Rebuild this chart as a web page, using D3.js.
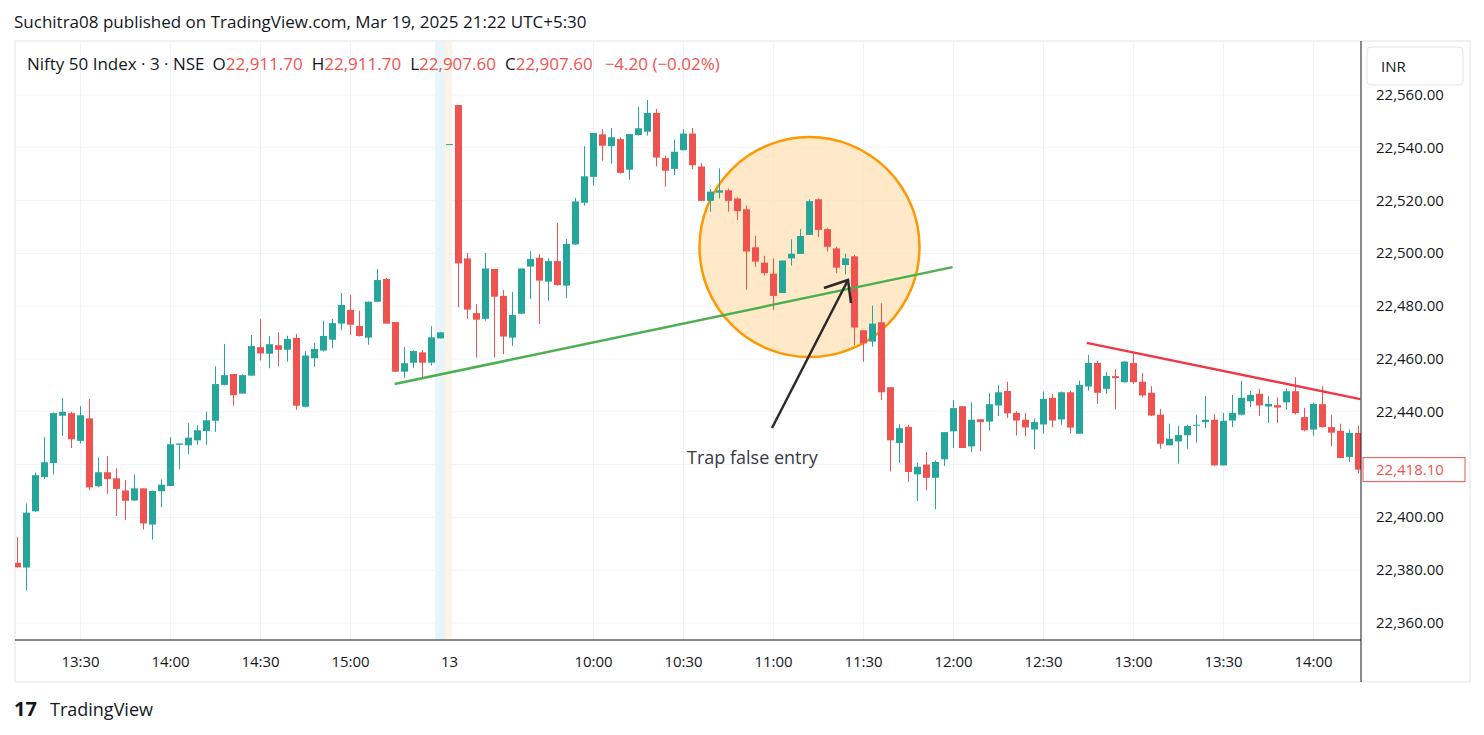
<!DOCTYPE html>
<html><head><meta charset="utf-8">
<script src="https://cdn.jsdelivr.net/npm/d3@7"></script>
<style>body{margin:0;background:#fff;font-family:"Open Sans",Roboto,sans-serif}</style>
</head><body><svg id="c" width="1484" height="735"></svg>
<script>
// 3-min candles, one per slot (day 1: 0..47, day 2: 48..149)
const opens = [22382.8,22381,22402.3,22415.3,22420.6,22438.5,22439.5,22429,22437.5,22411.8,22417.1,22414.8,22410.2,22406.4,22411,22397.3,22409.9,22411.9,22427.5,22427.3,22429.2,22432.7,22436.6,22450.2,22454.3,
22446.9,22453.7,22464.5,22462,22465.2,22463.5,22468,22441.9,22460.3,22463.2,22467.3,22473.4,22478.6,22472.5,22468.1,22481.7,22490.3,22474,22455.2,22458.6,22462.5,22458.6,22467.8,22541.4,22556.2,
22498.1,22477.4,22475.2,22494.1,22483.9,22468.1,22477.2,22495,22498.3,22489.3,22497.1,22487.8,22503.4,22519.2,22529,22545.1,22540.6,22543.3,22531.7,22544.8,22546.1,22553.2,22536.1,22532,22539.1,
22545.4,22532.9,22519.9,22523,22523.9,22520.8,22516.7,22502.3,22496.5,22492.3,22485,22498.1,22499.8,22507,22520.5,22509.2,22501.9,22495.6,22498.9,22470.9,22466.6,22473.9,22449.3,22428.2,22434.3,
22416.3,22420,22415,22422,22432.6,22442.1,22426.9,22437.2,22436.3,22442.4,22447.9,22439.6,22437,22433.3,22435.2,22445.3,22437.1,22447.4,22431.7,22449.6,22458.5,22448.7,22453.5,22451.2,22458.5,
22451.4,22447.2,22438.9,22427.3,22428.8,22431.1,22434.8,22436.1,22437,22419.7,22436.7,22438.9,22444,22446.8,22442,22442.5,22443.6,22447.8,22438,22433.3,22442.9,22434.2,22432.8,22422.9,22432];
const highs = [22392.5,22405.3,22417,22430.4,22439.7,22445.2,22440,22442.1,22444.8,22422.7,22423.2,22418.6,22414.2,22416.3,22411,22410.2,22414.4,22430.4,22428,22435.7,22434.9,22440.1,22457.2,22465.7,22454.3,
22454.2,22469.1,22475.2,22468.7,22470.1,22468.8,22469.5,22463,22466.1,22474.5,22475.2,22485,22484.2,22478.3,22481.8,22494.1,22490.7,22474,22464.5,22463.3,22463.4,22472.4,22470.1,22541.4,22556.2,
22500.2,22480.8,22500.2,22494.1,22486.1,22485.4,22494.3,22500.8,22499.8,22498.1,22511.5,22505.5,22521,22540.6,22545.6,22547.1,22547.5,22544,22545.2,22555.5,22558.1,22554.7,22537,22543.1,22547,
22547.5,22534.3,22524.4,22532.2,22524.6,22521.2,22518.1,22506.7,22499.1,22498.1,22497.3,22505.3,22509.2,22520.5,22520.8,22509.7,22502.5,22499.9,22499.4,22471,22480.2,22481.1,22449.3,22435.3,22435.1,
22420.8,22424.8,22421.6,22432.3,22444.4,22442.1,22443.6,22437.2,22447.2,22450.2,22451.4,22440.2,22439.6,22437.4,22447.7,22446.8,22447.7,22448,22451.8,22461.6,22459.2,22455,22456.2,22459.2,22461.9,
22454.7,22449.7,22441.1,22435.5,22434.6,22435.1,22438.9,22446,22439.1,22439.6,22446.4,22451.7,22447.9,22448.7,22445.9,22445.4,22448.9,22453.1,22441.4,22443.4,22449.7,22438.9,22435.5,22433.3,22434.8];
const lows = [22381,22372.4,22402,22414.5,22416.3,22430.9,22426.3,22428,22410.4,22411.5,22408.9,22400.5,22399,22406.2,22395.4,22391.6,22403.8,22411.8,22418.2,22423.9,22427.5,22427.5,22432.4,22450,22442.3,
22446.9,22453.7,22459.4,22456.5,22457.2,22459,22440.8,22441.7,22457.1,22462.8,22464,22470.9,22469.1,22468.5,22465.4,22481.5,22473.3,22455.1,22452.9,22456.7,22453,22457.5,22467.8,22541.4,22479.6,
22475.2,22460.5,22474.5,22460.5,22461.9,22465,22477,22482.7,22473.3,22482.1,22487.8,22483.1,22503.3,22518.1,22525.7,22535.1,22534,22530.2,22527.9,22544.6,22544.6,22533,22525.3,22529.7,22539,
22531.9,22519.8,22515.8,22520.8,22515.8,22512.6,22486.2,22495,22491.6,22478.6,22485,22495.4,22499.8,22507,22506.2,22500.7,22492.5,22492.1,22465.3,22459,22464.7,22444.5,22417.4,22420.6,22413.5,
22406.2,22410.3,22403.1,22419.5,22426.3,22426.3,22424.8,22425,22432.9,22438.4,22437.7,22431,22430.7,22425.8,22431.7,22434.1,22435.1,22431.8,22431.7,22448,22443,22446.8,22440.9,22451,22450.6,
22445.4,22438.4,22426,22427.3,22420.4,22426,22428.3,22433.8,22419.7,22419.7,22434.2,22438.6,22441.8,22438.4,22435.7,22435.7,22440.9,22439,22432.6,22431,22434,22427,22422.5,22421,22416.6];
const closes = [22381.1,22401.8,22416,22420.9,22439.5,22440,22429.6,22438.7,22411.4,22417.1,22414.5,22410.8,22406.3,22411,22397.7,22410,22412.4,22427.7,22428,22430.2,22433,22436.8,22450.5,22453.9,22446.3,
22453.9,22464.9,22462.1,22465.6,22463.5,22467.6,22442.3,22461.3,22463.8,22468.7,22473.6,22480.5,22473,22468.7,22481.7,22489.9,22473.4,22455.2,22458.4,22463,22458.6,22468.2,22470.1,22541.4,22496.2,
22478.7,22474.9,22494.3,22483.6,22468.5,22476.7,22494.3,22497.9,22489.7,22497.1,22488,22503.6,22519.7,22529.2,22545.6,22540.8,22544,22530.5,22545.2,22547.4,22553.2,22536.3,22531.3,22538.5,22545.4,
22533.4,22519.9,22523.4,22523.9,22519.9,22516,22500.7,22496.9,22492.5,22483.9,22497.3,22499.9,22506.6,22519.8,22508.9,22502.5,22494.6,22498.1,22471.9,22465.9,22473.4,22447.4,22429.2,22433.8,22417.2,
22419.2,22415,22421,22432.3,22441.4,22426.3,22437,22436.1,22442.9,22447.4,22439.4,22436.7,22434.1,22436.1,22444.9,22436.7,22447.4,22434,22450.2,22458.5,22447.2,22453.6,22452.8,22459,22451.2,
22446.2,22438.6,22427.9,22429.8,22431.2,22434.6,22435.1,22437,22419.7,22436.6,22439.6,22445.3,22446.4,22442.4,22443,22441.6,22447.8,22439.5,22433,22443,22434.2,22432.1,22422.5,22432,22418.1];
const timeTicks = [[7,"13:30"],[17,"14:00"],[27,"14:30"],[37,"15:00"],[48,"13"],[64,"10:00"],[74,"10:30"],[84,"11:00"],[94,"11:30"],[104,"12:00"],[114,"12:30"],[124,"13:00"],[134,"13:30"],[144,"14:00"]];
const priceTicks = [22360,22380,22400,22420,22440,22460,22480,22500,22520,22540,22560];
const supportLine = [[41.9,22450.5],[103.9,22494.8]];
const resistLine = [[118.8,22466.1],[149.2,22444.8]];
const trapCircle = [88,22502.4];

const green = "#26a69a", red = "#ef5350", grid = "#f0f3fa", ink = "#131722";
const L = 15, R = 1361, T = 41, B = 640;
const svg = d3.select("#c");
const x = d3.scaleLinear().domain([0, 149]).range([17.5, 1358.5]);
const y = d3.scaleLinear().domain([22360, 22560]).range([623, 95]);

svg.append("text").attr("x", 14).attr("y", 28).attr("font-size", 17).attr("fill", ink)
  .text("Suchitra08 published on TradingView.com, Mar 19, 2025 21:22 UTC+5:30");

// frame
svg.append("rect").attr("x", L).attr("y", T).attr("width", 1470 - L).attr("height", 682 - T)
  .attr("fill", "none").attr("stroke", "#e0e3eb");
svg.append("defs").append("clipPath").attr("id", "clip").append("rect")
  .attr("x", L).attr("y", T).attr("width", R - L).attr("height", B - T);
const plot = svg.append("g").attr("clip-path", "url(#clip)");

// session break band
plot.append("rect").attr("x", 435).attr("y", T).attr("width", 10).attr("height", B - T).attr("fill", "#e3f2fd").attr("opacity", 0.8);
plot.append("rect").attr("x", 445).attr("y", T).attr("width", 7).attr("height", B - T).attr("fill", "#fff3e0").attr("opacity", 0.9);

plot.selectAll(".hg").data(priceTicks).join("line")
  .attr("x1", L).attr("x2", R).attr("y1", d => y(d)).attr("y2", d => y(d)).attr("stroke", grid);
plot.selectAll(".vg").data(timeTicks).join("line")
  .attr("x1", d => x(d[0])).attr("x2", d => x(d[0])).attr("y1", T).attr("y2", B).attr("stroke", grid);

// circle sits under the candles
plot.append("circle").attr("cx", x(trapCircle[0])).attr("cy", y(trapCircle[1])).attr("r", 110)
  .attr("fill", "#ffe0b2").attr("fill-opacity", 0.7).attr("stroke", "#ff9800").attr("stroke-width", 2.5);

// candles
const idx = d3.range(opens.length);
const col = i => closes[i] >= opens[i] ? green : red;
plot.selectAll(".wick").data(idx).join("line")
  .attr("x1", i => x(i)).attr("x2", i => x(i))
  .attr("y1", i => y(highs[i])).attr("y2", i => y(lows[i]))
  .attr("stroke", col).attr("stroke-width", 1);
plot.selectAll(".body").data(idx).join("rect")
  .attr("x", i => x(i) - 3.5).attr("width", 7)
  .attr("y", i => y(Math.max(opens[i], closes[i])))
  .attr("height", i => Math.max(1, Math.abs(y(opens[i]) - y(closes[i]))))
  .attr("fill", col);

// drawings
const line = d3.line().x(d => x(d[0])).y(d => y(d[1]));
plot.append("path").attr("d", line(supportLine)).attr("stroke", "#4caf50").attr("stroke-width", 2.5).attr("fill", "none");
plot.append("path").attr("d", line(resistLine)).attr("stroke", "#f23645").attr("stroke-width", 2.5).attr("fill", "none");
plot.append("line").attr("x1", 772).attr("y1", 428).attr("x2", 848).attr("y2", 280).attr("stroke", "#2a2a2a").attr("stroke-width", 2.5);
plot.append("path").attr("d", "M824,288 L848,280 L851,303").attr("stroke", "#2a2a2a").attr("stroke-width", 2.5).attr("fill", "none");
svg.append("text").attr("x", 687).attr("y", 464).attr("font-size", 18).attr("fill", "#363a45").text("Trap false entry");

// axes
const last = closes[closes.length - 1];
svg.append("line").attr("x1", R).attr("x2", R).attr("y1", T).attr("y2", 682).attr("stroke", ink);
svg.append("line").attr("x1", L).attr("x2", R).attr("y1", B).attr("y2", B).attr("stroke", ink);
svg.selectAll(".pl").data(priceTicks.filter(d => Math.abs(y(d) - y(last)) > 16)).join("text")
  .attr("x", 1376).attr("y", d => y(d) + 5).attr("font-size", 15).attr("fill", ink)
  .text(d => d3.format(",.2f")(d));
svg.selectAll(".tl").data(timeTicks).join("text")
  .attr("x", d => x(d[0])).attr("y", 667).attr("text-anchor", "middle").attr("font-size", 15).attr("fill", ink)
  .text(d => d[1]);

// last price tag
svg.append("rect").attr("x", 1363).attr("y", y(last) - 12).attr("width", 102).attr("height", 24)
  .attr("fill", "#fff").attr("stroke", red);
svg.append("text").attr("x", 1376).attr("y", y(last) + 5).attr("font-size", 15).attr("fill", red)
  .text(d3.format(",.2f")(last));

// INR box
svg.append("rect").attr("x", 1367).attr("y", 47).attr("width", 96).attr("height", 38).attr("rx", 4)
  .attr("fill", "#fff").attr("stroke", "#e0e3eb");
svg.append("text").attr("x", 1381).attr("y", 72).attr("font-size", 15).attr("fill", ink).text("INR");

// legend
const lg = svg.append("text").attr("x", 27).attr("y", 70).attr("font-size", 17);
lg.append("tspan").attr("fill", ink).text("Nifty 50 Index · 3 · NSE");
[["O", "22,911.70"], ["H", "22,911.70"], ["L", "22,907.60"], ["C", "22,907.60"]].forEach(([k, v], i) => {
  lg.append("tspan").attr("fill", ink).attr("dx", i ? 9 : 8).text(k);
  lg.append("tspan").attr("fill", red).text(v);
});
lg.append("tspan").attr("fill", red).attr("dx", 12).text("−4.20 (−0.02%)");

// footer logo
svg.append("text").attr("x", 14).attr("y", 716).attr("font-size", 20).attr("font-weight", 700).attr("fill", ink).text("17");
svg.append("text").attr("x", 50).attr("y", 716).attr("font-size", 18).attr("fill", ink).text("TradingView");
</script></body></html>
